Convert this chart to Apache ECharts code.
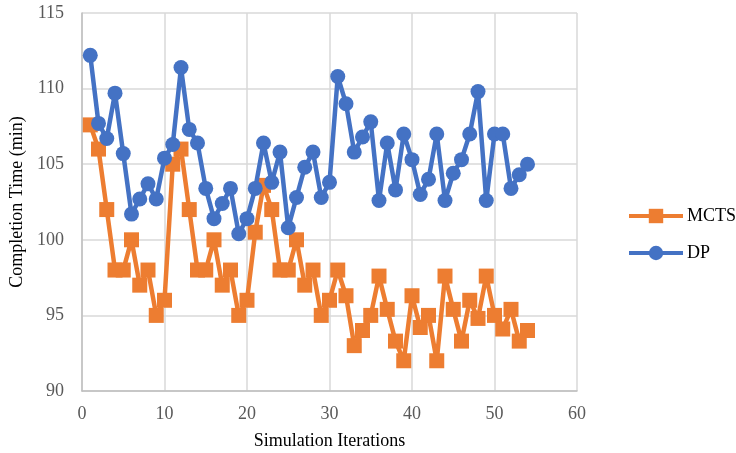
<!DOCTYPE html>
<html>
<head>
<meta charset="utf-8">
<script src="https://cdn.jsdelivr.net/npm/echarts@6/dist/echarts.min.js"></script>
<style>
  html, body { margin: 0; padding: 0; background: #fff; }
  #chart { width: 736px; height: 453px; }
</style>
</head>
<body>
<div id="chart"></div>
<script>
const iterations = Array.from({ length: 54 }, (_, i) => i + 1)

const mctsValues = [
  107.6, 106.0, 102.0, 98.0, 98.0, 100.0, 97.0, 98.0, 95.0, 96.0,
  105.0, 106.0, 102.0, 98.0, 98.0, 100.0, 97.0, 98.0, 95.0, 96.0,
  100.5, 103.6, 102.0, 98.0, 98.0, 100.0, 97.0, 98.0, 95.0, 96.0,
  98.0, 96.3, 93.0, 94.0, 95.0, 97.6, 95.4, 93.3, 92.0, 96.3,
  94.2, 95.0, 92.0, 97.6, 95.4, 93.3, 96.0, 94.8, 97.6, 95.0,
  94.1, 95.4, 93.3, 94.0
]

const dpValues = [
  112.2, 107.7, 106.7, 109.7, 105.7, 101.7, 102.7, 103.7, 102.7, 105.4,
  106.3, 111.4, 107.3, 106.4, 103.4, 101.4, 102.4, 103.4, 100.4, 101.4,
  103.4, 106.4, 103.8, 105.8, 100.8, 102.8, 104.8, 105.8, 102.8, 103.8,
  110.8, 109.0, 105.8, 106.8, 107.8, 102.6, 106.4, 103.3, 107.0, 105.3,
  103.0, 104.0, 107.0, 102.6, 104.4, 105.3, 107.0, 109.8, 102.6, 107.0,
  107.0, 103.4, 104.3, 105.0
]

const seriesNames = ['MCTS', 'DP']

const chart = echarts.init(document.getElementById('chart'))

const toPairs = (vals) => vals.map((v, i) => [iterations[i], v])

const labelFont = { fontFamily: 'Liberation Serif', fontSize: 18, color: '#595959' }
const titleFont = { fontFamily: 'Liberation Serif', fontSize: 18, color: '#000' }

const option = {
  backgroundColor: '#fff',
  animation: false,
  grid: { left: 82, right: 159, top: 13, bottom: 62, outerBoundsMode: 'none', containLabel: false },
  legend: {
    data: seriesNames,
    orient: 'vertical',
    left: 627,
    top: 207,
    padding: 0,
    itemWidth: 54,
    itemHeight: 18,
    itemGap: 19,
    lineStyle: { width: 4 },
    textStyle: { ...titleFont, padding: [0, 0, 0, -1] }
  },
  xAxis: {
    type: 'value',
    min: 0,
    max: 60,
    interval: 10,
    name: 'Simulation Iterations',
    nameLocation: 'middle',
    nameGap: 41,
    nameTextStyle: titleFont,
    axisLine: { lineStyle: { color: '#bfbfbf', width: 1.5 } },
    axisTick: { show: false },
    axisLabel: { ...labelFont, margin: 14 },
    splitLine: { lineStyle: { color: '#d9d9d9', width: 1.5 } }
  },
  yAxis: {
    type: 'value',
    min: 90,
    max: 115,
    interval: 5,
    name: 'Completion Time (min)',
    nameLocation: 'middle',
    nameGap: 52,
    nameTextStyle: titleFont,
    axisLine: { show: true, lineStyle: { color: '#bfbfbf', width: 1.5 } },
    axisTick: { show: false },
    axisLabel: { ...labelFont, margin: 18 },
    splitLine: { lineStyle: { color: '#d9d9d9', width: 1.5 } }
  },
  series: [
    {
      name: 'MCTS',
      type: 'line',
      data: toPairs(mctsValues),
      symbol: 'rect',
      symbolSize: 15,
      z: 2,
      itemStyle: { color: '#ED7D31' },
      lineStyle: { color: '#ED7D31', width: 4.5 }
    },
    {
      name: 'DP',
      type: 'line',
      data: toPairs(dpValues),
      symbol: 'circle',
      symbolSize: 15,
      z: 3,
      itemStyle: { color: '#4472C4' },
      lineStyle: { color: '#4472C4', width: 4.5 }
    }
  ]
}

chart.setOption(option)
</script>
</body>
</html>
